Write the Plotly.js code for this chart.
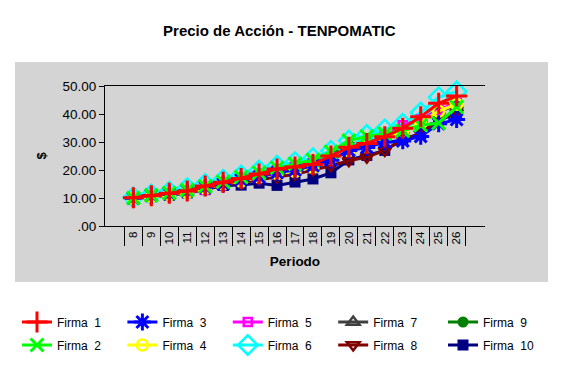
<!DOCTYPE html>
<html><head><meta charset="utf-8">
<script src="https://cdn.plot.ly/plotly-3.0.1.min.js"></script>
<style>html,body{margin:0;padding:0;background:#fff;}#chart{width:562px;height:372px;}</style>
</head><body><div id="chart"></div>
<script>
const periods = ['8','9','10','11','12','13','14','15','16','17','18','19','20','21','22','23','24','25','26'];
const firma1 = [10.1,10.8,11.7,12.5,14.3,15.6,17.0,18.6,20.4,21.1,22.0,25.0,28.1,29.5,31.9,34.9,39.0,43.8,46.4];
const firma2 = [10.0,11.0,11.8,12.8,14.2,15.8,17.5,19.0,20.8,22.2,23.6,26.5,30.5,32.0,33.0,34.0,36.0,36.8,42.5];
const firma3 = [9.9,10.9,11.5,12.6,13.8,15.0,16.5,17.5,19.0,20.0,21.5,23.5,27.0,28.0,30.0,30.4,32.0,36.5,38.0];
const firma4 = [9.8,10.5,11.2,12.0,13.5,15.0,16.0,17.5,18.8,19.5,21.0,24.0,27.0,28.5,31.0,33.5,37.0,41.0,43.5];
const firma5 = [10.0,10.8,11.5,12.3,13.0,15.5,16.8,18.2,20.0,21.0,22.5,24.5,28.0,29.5,32.0,36.0,38.0,41.5,44.0];
const firma6 = [10.3,11.2,12.2,13.5,15.0,16.5,18.0,19.8,21.5,22.8,24.2,26.8,30.5,32.5,34.5,36.5,40.5,46.0,48.0];
const firma7 = [10.0,10.7,11.4,12.2,13.8,15.2,16.5,18.0,19.8,20.8,22.0,24.5,27.5,29.0,31.0,34.0,38.0,41.0,43.0];
const firma8 = [9.7,10.4,11.0,11.8,13.3,14.5,15.5,16.5,17.5,18.5,20.0,21.5,23.3,24.6,27.0,31.0,33.0,38.0,40.5];
const firma9 = [10.0,11.0,11.6,12.5,14.0,15.5,17.2,18.5,20.0,21.5,23.0,25.5,29.0,30.5,32.0,34.5,37.5,40.5,44.5];
const firma10 = [9.8,10.5,11.0,11.8,13.0,14.5,14.6,15.3,14.5,15.7,16.8,19.0,23.6,25.2,27.0,30.8,33.0,37.9,40.0];
const yTickVals = [0,10,20,30,40,50];
const yTickText = ['.00','10.00','20.00','30.00','40.00','50.00'];
const seriesNames = ['Firma\u00a0\u00a01','Firma\u00a0\u00a02','Firma\u00a0\u00a03','Firma\u00a0\u00a04','Firma\u00a0\u00a05','Firma\u00a0\u00a06','Firma\u00a0\u00a07','Firma\u00a0\u00a08','Firma\u00a0\u00a09','Firma\u00a0\u00a010'];

const allData = [firma1,firma2,firma3,firma4,firma5,firma6,firma7,firma8,firma9,firma10];
const styles = [
  {c:'#FF0000', s:'cross-thin', sz:15, lw:3, rank:1, lg:'legend'},
  {c:'#00FF00', s:'x-thin', sz:13, lw:3, rank:1, lg:'legend2'},
  {c:'#0000FF', s:'asterisk', sz:14, lw:3, rank:2, lg:'legend'},
  {c:'#FFFF00', s:'circle-open', sz:11, lw:2.5, rank:2, lg:'legend2'},
  {c:'#FF00FF', s:'square-open', sz:8, lw:2.5, rank:3, lg:'legend'},
  {c:'#00FFFF', s:'diamond-open', sz:15, lw:2.5, rank:3, lg:'legend2'},
  {c:'#404040', s:'triangle-up-open', sz:11, lw:2.5, rank:4, lg:'legend'},
  {c:'#800000', s:'triangle-down-open', sz:11, lw:2.5, rank:4, lg:'legend2'},
  {c:'#008000', s:'circle', sz:11, lw:0, rank:5, lg:'legend3'},
  {c:'#000080', s:'square', sz:11, lw:0, rank:5, lg:'legend4'}
];
const traces = [];
for (let i = allData.length-1; i >= 0; i--) {
  const st = styles[i];
  traces.push({
    x: periods, y: allData[i], name: seriesNames[i], type:'scatter', mode:'lines+markers',
    line:{color:st.c, width:3},
    marker:{symbol:st.s, size:st.sz, color:st.c, line:{color:st.c, width:st.lw}},
    legendrank: st.rank, legend: st.lg, cliponaxis:false
  });
}
const legendCommon = {orientation:'h', x:-0.2316, xanchor:'left', yanchor:'middle', entrywidth:60.4, entrywidthmode:'pixels', font:{size:12, color:'#000'}, bgcolor:'rgba(0,0,0,0)', traceorder:'normal'};
const col5x = (443-105)/380;
const layout = {
  width:562, height:372,
  margin:{l:105, r:77, t:86, b:146, autoexpand:false},
  paper_bgcolor:'#FFFFFF', plot_bgcolor:'#D4D4D4',
  font:{family:'Arial, Liberation Sans, sans-serif', color:'#000', size:12},
  title:{text:'<b>Precio de Acción - TENPOMATIC</b>', font:{size:15, color:'#000'}, x:0.497, xref:'container', xanchor:'center', y:1-31/372, yref:'container', yanchor:'middle'},
  showlegend:true,
  legend:Object.assign({}, legendCommon, {y:-96/140}),
  legend2:Object.assign({}, legendCommon, {y:-119/140}),
  legend3:Object.assign({}, legendCommon, {x:col5x, y:-96/140}),
  legend4:Object.assign({}, legendCommon, {x:col5x, y:-119/140}),
  xaxis:{type:'category', showline:true, linecolor:'#000', linewidth:1, mirror:true, ticks:'outside', ticklen:19, tickcolor:'#000', tickson:'boundaries', tickangle:-90, tickfont:{size:11.5}, showgrid:false, zeroline:false, automargin:false,
    title:{text:'<b>Periodo</b>', font:{size:13.5}, standoff:13}},
  yaxis:{range:[0,50], tickvals:yTickVals, ticktext:yTickText, showline:true, linecolor:'#000', linewidth:1, ticks:'outside', ticklen:5, tickcolor:'#000', tickfont:{size:13.5}, showgrid:false, zeroline:false, automargin:false,
    title:{text:'<b>$</b>', font:{size:13}, standoff:12}},
  yaxis2:{range:[0,50], overlaying:'y', side:'right', anchor:'x', tickvals:yTickVals, ticktext:yTickText, showline:true, linecolor:'#000', linewidth:1, ticks:'outside', ticklen:5, tickcolor:'#000', tickfont:{size:13.5}, ticklabelstandoff:5, showgrid:false, zeroline:false, automargin:false},
  shapes:[{type:'rect', xref:'paper', yref:'paper', x0:-0.2368, x1:1.1658, y0:-0.4, y1:1.1714, fillcolor:'#D4D4D4', line:{width:0}, layer:'below'}]
};
Plotly.newPlot('chart', traces, layout, {displayModeBar:false, staticPlot:true});
</script></body></html>
